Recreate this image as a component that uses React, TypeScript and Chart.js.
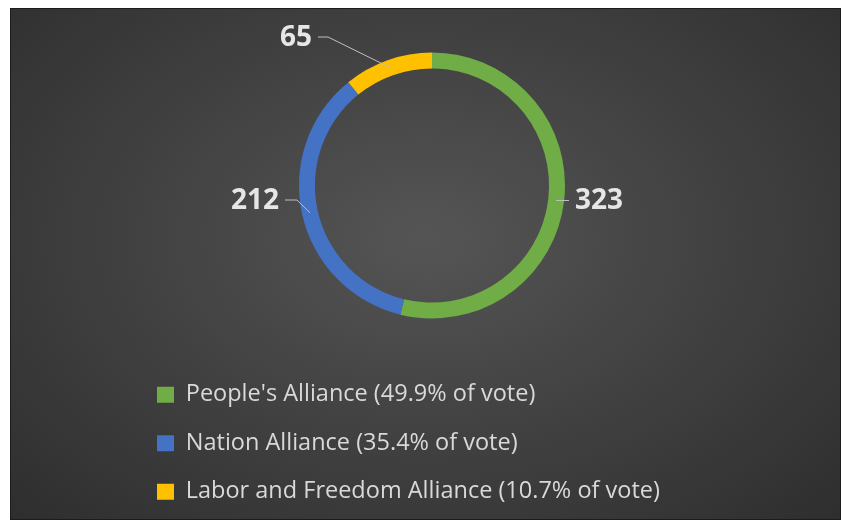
import React, { useEffect, useRef } from "react";
import { Chart, registerables } from "chart.js";

Chart.register(...registerables);

const parties = ["People's Alliance", "Nation Alliance", "Labor and Freedom Alliance"];
const voteShare = [49.9, 35.4, 10.7];
const seats = [323, 212, 65];
const colors = ["#70AD47", "#4472C4", "#FFC000"];

const legendLabels = parties.map((p, i) => `${p} (${voteShare[i]}% of vote)`);

const leaderPlugin = {
  id: "leaderLabels",
  afterDatasetsDraw(chart: any, _args: any, opts: any) {
    const meta = chart.getDatasetMeta(0);
    const ctx = chart.ctx;
    const values = chart.data.datasets[0].data;
    ctx.save();
    meta.data.forEach((arc: any, i: number) => {
      const { x, y, startAngle, endAngle, outerRadius } = arc.getProps(
        ["x", "y", "startAngle", "endAngle", "outerRadius"],
        true
      );
      const mid = (startAngle + endAngle) / 2;
      const r = outerRadius - 8;
      const ax = x + Math.cos(mid) * r;
      const ay = y + Math.sin(mid) * r;
      const ex = x + opts.elbows[i][0];
      const ey = y + opts.elbows[i][1];
      const side = ex < x ? -1 : 1;
      const sx = ex + side * opts.stubs[i];
      ctx.strokeStyle = opts.lineColor;
      ctx.lineWidth = 1;
      ctx.beginPath();
      ctx.moveTo(ax, ay);
      ctx.lineTo(ex, ey);
      ctx.lineTo(sx, ey);
      ctx.stroke();
      ctx.fillStyle = opts.textColor;
      ctx.font = opts.font;
      ctx.textBaseline = "middle";
      ctx.textAlign = side < 0 ? "right" : "left";
      ctx.fillText(String(values[i]), sx + side * opts.gap, ey + 1);
    });
    ctx.restore();
  },
};

export default function App() {
  const ref = useRef<HTMLCanvasElement | null>(null);

  useEffect(() => {
    if (!ref.current) return;
    const chart = new Chart(ref.current, {
      type: "doughnut",
      data: {
        labels: legendLabels,
        datasets: [
          {
            data: seats,
            backgroundColor: colors,
            borderWidth: 0,
            radius: 133,
            cutout: "88%",
          } as any,
        ],
      },
      options: {
        animation: false,
        responsive: false,
        maintainAspectRatio: false,
        layout: {
          padding: { left: 121, right: 108, top: 4, bottom: 5.5 },
        },
        plugins: {
          tooltip: { enabled: false },
          legend: {
            position: "bottom",
            align: "start",
            labels: {
              color: "#d9d9d9",
              font: { family: "Open Sans", size: 23.5 },
              boxWidth: 17,
              boxHeight: 16,
              padding: 25,
            },
          },
          leaderLabels: {
            elbows: [
              [137, 15],
              [-135, 14.5],
              [-104, -148.5],
            ],
            stubs: [0, 12, 10],
            gap: 6,
            lineColor: "#bfbfbf",
            textColor: "#e6e6e6",
            font: "bold 28px 'Open Sans'",
          },
        } as any,
      },
      plugins: [leaderPlugin],
    });
    return () => chart.destroy();
  }, []);

  return (
    <div
      style={{
        position: "absolute",
        left: 10,
        top: 8,
        width: 829,
        height: 510,
        border: "1px solid #1c1c1c",
        background: "radial-gradient(ellipse at 50% 45%, #555555 0%, #434343 45%, #2e2e2e 100%)",
      }}
    >
      <canvas ref={ref} width={829} height={510} style={{ display: "block", width: 829, height: 510 }} />
    </div>
  );
}
